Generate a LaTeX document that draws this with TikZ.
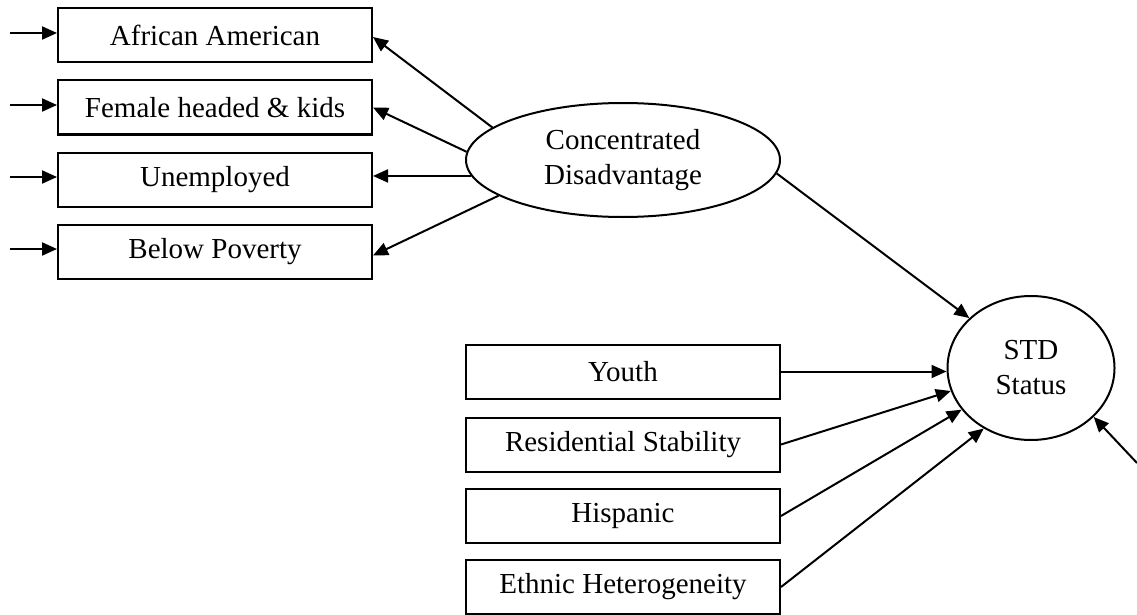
\documentclass[tikz,border=0pt]{standalone}
\usepackage{fontspec}
\setmainfont{Liberation Serif}
\usetikzlibrary{arrows.meta,shapes.geometric}
\begin{document}
\begin{tikzpicture}[x=1pt,y=-1pt,
  box/.style={draw,line width=2pt,minimum width=314pt,minimum height=54pt,inner sep=0pt,font=\fontsize{29}{35}\selectfont},
  lat/.style={draw,ellipse,line width=2pt,inner sep=0pt,align=center,font=\fontsize{29}{35}\selectfont},
  arr/.style={line width=2pt,-{Triangle[length=15pt,width=13pt]}}]
\useasboundingbox (0,0) rectangle (1137,615);
\node[box] (aa) at (215,35) {African American};
\node[box] (fh) at (215,107.5) {Female headed \& kids};
\node[box] (un) at (215,179.5) {Unemployed};
\node[box] (bp) at (215,251.5) {Below Poverty};
\node[lat,minimum width=314pt,minimum height=114pt] (cd) at (623,160) {Concentrated\\Disadvantage};
\node[lat,minimum width=167pt,minimum height=144pt] (std) at (1031,368) {STD\\Status};
\node[box] (yo) at (623,371.5) {Youth};
\node[box] (rs) at (623,444.5) {Residential Stability};
\node[box] (hi) at (623,516) {Hispanic};
\node[box] (eh) at (623,587) {Ethnic Heterogeneity};
\coordinate (e1) at (10,33);
\coordinate (e2) at (10,105);
\coordinate (e3) at (10,177);
\coordinate (e4) at (10,249);
\coordinate (e5) at (1137,463);
\draw[arr] (e1) -- (e1 -| aa.west);
\draw[arr] (e2) -- (e2 -| fh.west);
\draw[arr] (e3) -- (e3 -| un.west);
\draw[arr] (e4) -- (e4 -| bp.west);
\draw[arr] (cd.166.5) -- ([yshift=-2pt]aa.east);
\draw[arr] (cd.177) -- (fh.east);
\draw[arr] (cd.186) -- (cd.186 -| un.east);
\draw[arr] (cd.196.7) -- ([yshift=-4pt]bp.east);
\draw[arr] (cd.-5.5) -- (std.141.8);
\draw[arr] (yo.east) -- (yo.east -| std.west);
\draw[arr] (rs.east) -- (std.196);
\draw[arr] (hi.east) -- (std.211);
\draw[arr] (eh.east) -- (std.232);
\draw[arr] (e5) -- (std.-38.9);
\end{tikzpicture}
\end{document}
